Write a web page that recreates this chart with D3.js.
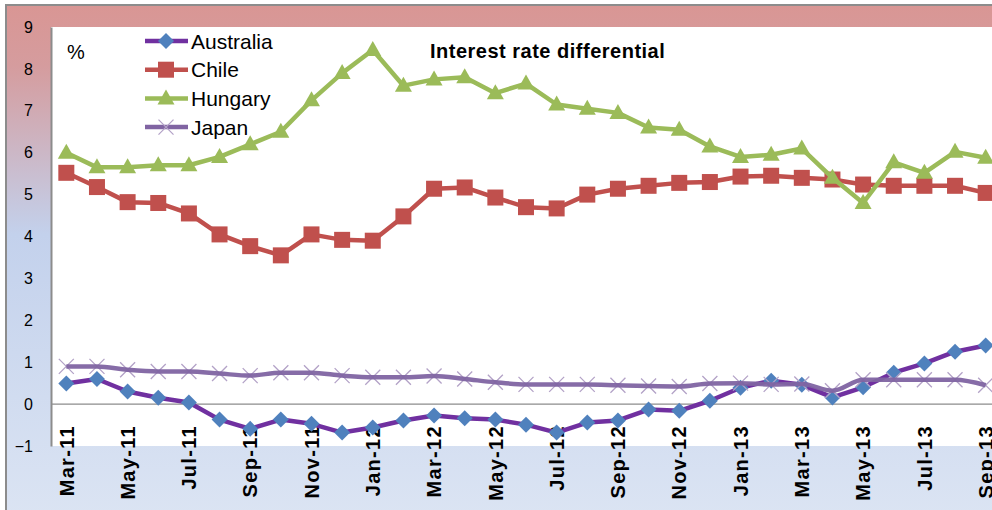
<html>
<head>
  <meta charset="utf-8">
  <title>Interest rate differential</title>
  <script src="https://cdnjs.cloudflare.com/ajax/libs/d3/7.8.5/d3.min.js"></script>
  <style>
    body { margin: 0; background: #fff; }
    text { font-family: "Liberation Sans", Arial, sans-serif; }
  </style>
</head>
<body>
  <svg></svg>
  <script>

var months = ["Mar-11","Apr-11","May-11","Jun-11","Jul-11","Aug-11","Sep-11","Oct-11","Nov-11","Dec-11",
              "Jan-12","Feb-12","Mar-12","Apr-12","May-12","Jun-12","Jul-12","Aug-12","Sep-12","Oct-12","Nov-12","Dec-12",
              "Jan-13","Feb-13","Mar-13","Apr-13","May-13","Jun-13","Jul-13","Aug-13","Sep-13"];

var monthLabels = ["Mar-11","May-11","Jul-11","Sep-11","Nov-11","Jan-12","Mar-12","May-12",
                   "Jul-12","Sep-12","Nov-12","Jan-13","Mar-13","May-13","Jul-13","Sep-13"];

var yTicks = [-1,0,1,2,3,4,5,6,7,8,9];

var australia = [0.49,0.6,0.3,0.15,0.04,-0.37,-0.59,-0.37,-0.47,-0.68,
                 -0.56,-0.39,-0.27,-0.34,-0.37,-0.49,-0.68,-0.44,-0.39,-0.13,-0.16,0.08,
                 0.39,0.56,0.46,0.16,0.4,0.75,0.97,1.25,1.4];

var chile = [5.52,5.18,4.82,4.8,4.55,4.05,3.77,3.55,4.05,3.92,
             3.9,4.48,5.14,5.17,4.93,4.7,4.67,5.0,5.14,5.21,5.28,5.3,
             5.43,5.45,5.4,5.36,5.24,5.21,5.21,5.21,5.04];

var hungary = [6.0,5.65,5.65,5.7,5.7,5.9,6.2,6.5,7.25,7.9,
               8.45,7.6,7.75,7.8,7.42,7.65,7.15,7.05,6.95,6.6,6.55,6.15,
               5.9,5.95,6.1,5.4,4.8,5.77,5.52,6.02,5.88];

var japan = [0.9,0.9,0.82,0.78,0.78,0.73,0.68,0.75,0.75,0.68,
             0.64,0.64,0.67,0.6,0.52,0.47,0.47,0.47,0.45,0.43,0.42,0.49,
             0.5,0.47,0.48,0.32,0.58,0.58,0.58,0.58,0.45];

var w = 992;
var h = 510;
var svg = d3.select("svg")
.attr("width",w)
.attr("height",h);

var plot = {left: 51, right: 1001, top: 27, bottom: 446};

// background: pink at the top fading to pale blue
var defs = svg.append("defs");
var grad = defs.append("linearGradient")
.attr("id","bg")
.attr("x1",0).attr("y1",0).attr("x2",0).attr("y2",1);
grad.append("stop").attr("offset","0%").attr("stop-color","#d99694");
grad.append("stop").attr("offset","12%").attr("stop-color","#d59c9e");
grad.append("stop").attr("offset","45%").attr("stop-color","#c3d1ec");
grad.append("stop").attr("offset","100%").attr("stop-color","#dbe4f3");

svg.append("rect")
.attr("x",6).attr("y",5)
.attr("width",w).attr("height",h)
.attr("fill","url(#bg)")
.attr("stroke","#8c8c8c")
.attr("stroke-width",2);

svg.append("rect")
.attr("x",plot.left).attr("y",plot.top)
.attr("width",plot.right-plot.left).attr("height",plot.bottom-plot.top)
.attr("fill","#fff");

var x = d3.scaleBand()
.domain(months)
.range([plot.left,plot.right]);

var cx = function(m) { return x(m)+x.bandwidth()/2; };

var y = d3.scaleLinear()
.domain([-1,9])
.range([plot.bottom,plot.top]);

// y axis
var yAxis = svg.append("g")
.attr("transform","translate("+plot.left+",0)")
.call(d3.axisLeft(y).tickValues(yTicks).tickSize(0).tickPadding(18));
yAxis.select(".domain").attr("stroke","#8c8c8c").attr("stroke-width",2);
yAxis.selectAll("text")
.attr("font-size",16)
.attr("font-family","'Liberation Sans', Arial, sans-serif")
.attr("fill","#000");

// zero line + category labels
svg.append("line")
.attr("x1",plot.left).attr("x2",w)
.attr("y1",y(0)).attr("y2",y(0))
.attr("stroke","#8c8c8c")
.attr("stroke-width",1.2);

var xAxis = svg.append("g")
.attr("transform","translate(0,"+y(0)+")")
.call(d3.axisBottom(x).tickValues(monthLabels).tickSize(0));
xAxis.select(".domain").remove();
xAxis.selectAll("text")
.attr("transform","rotate(-90)")
.attr("text-anchor","end")
.attr("x",-21)
.attr("y",0)
.attr("dy","0.36em")
.attr("font-size",20)
.attr("letter-spacing",1.3)
.attr("font-weight","bold")
.attr("font-family","'Liberation Sans', Arial, sans-serif")
.attr("fill","#000");

var series = [
  {name:"Australia", values:australia, line:"#7030a0", marker:"diamond", fill:"#4f81bd"},
  {name:"Chile", values:chile, line:"#c0504d", marker:"square", fill:"#c0504d"},
  {name:"Hungary", values:hungary, line:"#9bbb59", marker:"triangle", fill:"#9bbb59"},
  {name:"Japan", values:japan, line:"#8064a2", marker:"cross", fill:"#b3a2c7"}
];

function drawMarker(g, type, color) {
  if (type == "diamond") {
    g.append("path").attr("d","M0,-8L8,0L0,8L-8,0Z").attr("fill",color);
  } else if (type == "square") {
    g.append("rect").attr("x",-8).attr("y",-8).attr("width",16).attr("height",16).attr("fill",color);
  } else if (type == "triangle") {
    g.append("path").attr("d","M0,-9L8.5,6L-8.5,6Z").attr("fill",color);
  } else {
    g.append("path").attr("d","M-7.5,-7.5L7.5,7.5M-7.5,7.5L7.5,-7.5").attr("stroke",color).attr("stroke-width",1.3).attr("fill","none");
  }
}

var clip = defs.append("clipPath").attr("id","clip");
clip.append("rect").attr("x",plot.left).attr("y",0).attr("width",w).attr("height",h);

var marks = svg.append("g").attr("clip-path","url(#clip)");

series.forEach(function(s) {
  var line = d3.line()
  .x(function(d,i) { return cx(months[i]); })
  .y(function(d) { return y(d); })
  .curve(s.marker == "cross" ? d3.curveMonotoneX : d3.curveLinear);

  var g = marks.append("g");
  if (s.marker == "cross") {
    // markers sit under the smoothed line
    s.values.forEach(function(v,i) {
      drawMarker(g.append("g").attr("transform","translate("+cx(months[i])+","+y(v)+")"), s.marker, s.fill);
    });
    g.append("path").datum(s.values)
    .attr("d",line).attr("fill","none")
    .attr("stroke",s.line).attr("stroke-width",4.5).attr("stroke-opacity",0.95);
  } else {
    g.append("path").datum(s.values)
    .attr("d",line).attr("fill","none")
    .attr("stroke",s.line).attr("stroke-width",4.5)
    .attr("stroke-linejoin","round");
    s.values.forEach(function(v,i) {
      drawMarker(g.append("g").attr("transform","translate("+cx(months[i])+","+y(v)+")"), s.marker, s.fill);
    });
  }
});

// legend
var legend = svg.append("g");
series.forEach(function(s,i) {
  var ly = 41 + i*28.7;
  var lg = legend.append("g").attr("transform","translate(0,"+ly+")");
  lg.append("line").attr("x1",145).attr("x2",188).attr("y1",0).attr("y2",0)
  .attr("stroke",s.line).attr("stroke-width",4.5);
  drawMarker(lg.append("g").attr("transform","translate(166,0)"), s.marker, s.fill);
  lg.append("text").attr("x",191).attr("y",0).attr("dy","0.36em")
  .attr("font-size",21).attr("fill","#000").text(s.name);
});

svg.append("text")
.attr("x",67).attr("y",59)
.attr("font-size",20)
.text("%");

svg.append("text")
.attr("x",430).attr("y",58)
.attr("font-size",20)
.attr("letter-spacing",0.5)
.attr("font-weight","bold")
.text("Interest rate differential");

  </script>
</body>
</html>
